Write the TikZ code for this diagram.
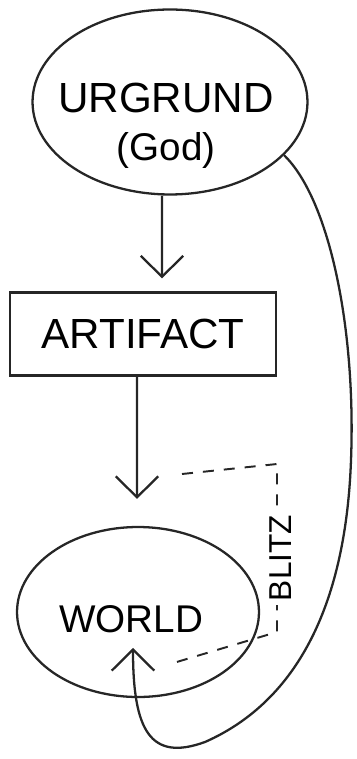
\documentclass[tikz,border=0pt]{standalone}
\usepackage{fontspec}
\setmainfont{Liberation Sans}
\usetikzlibrary{arrows.meta,shapes.geometric}
\begin{document}
\begin{tikzpicture}[x=0.02cm,y=-0.02cm,line width=1.3pt,
  hand/.style={draw=black!85,line width=1.3pt},
  arr/.style={hand,-{Straight Barb[length=0.42cm,width=0.85cm,line width=1.3pt]}},
  blitzline/.style={draw=black!85,line width=1.1pt,dash pattern=on 0.22cm off 0.2cm}]
\useasboundingbox (0,0) rectangle (356,759);
\node[hand,ellipse,minimum width=5.5cm,minimum height=3.7cm,inner sep=0pt] (god) at (170,102) {};
\node[align=center,font=\fontsize{24}{26}\selectfont] (godtext) at (166,126)
  {URGRUND\\[0.05cm]{\fontsize{22}{26}\selectfont (God)}};
\node[hand,rectangle,minimum width=5.32cm,minimum height=1.66cm,inner sep=0pt] (artifact) at (143,334)
  {\fontsize{24}{28}\selectfont ARTIFACT};
\node[hand,ellipse,minimum width=4.84cm,minimum height=3.4cm,inner sep=0pt] (world) at (138,612) {};
\node[font=\fontsize{22}{26}\selectfont] (worldtext) at (131,619) {WORLD};
\coordinate (tip) at ([xshift=-0.1cm,yshift=-0.72cm]world.center);
\coordinate (bend) at (277,464);
\coordinate (drop) at (277,632);
\draw[arr] ([xshift=-0.16cm]god.south) -- ([xshift=0.38cm,yshift=0.26cm]artifact.north);
\draw[arr,shorten >=0.54cm] ([xshift=-0.12cm]artifact.south) -- ([xshift=-0.02cm]world.north);
\draw[blitzline] (182,474) -- (bend) -- (drop) -- (170,664);
\node[fill=white,rotate=90,inner sep=2pt] (blitz) at (281,558) {\fontsize{18}{20}\selectfont BLITZ};
\draw[arr] (god.-25) .. controls (330,200) and (356,330) .. (351,460)
  .. controls (346,600) and (300,700) .. (205,742)
  .. controls (150,762) and (133,730) .. (tip);
\end{tikzpicture}
\end{document}
